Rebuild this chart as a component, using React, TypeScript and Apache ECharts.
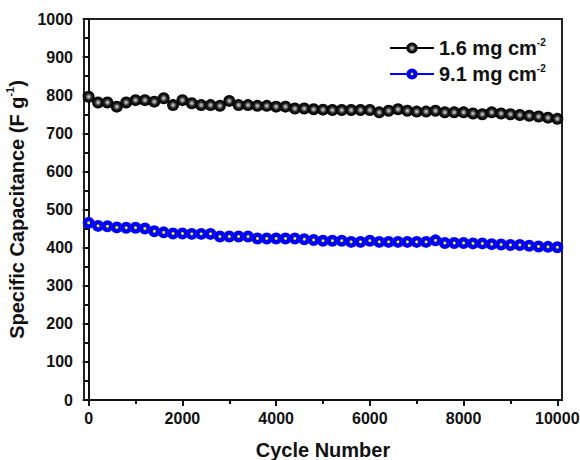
import React, { useEffect, useRef } from "react";
import * as echarts from "echarts";

const cycles = [
  0, 200, 400, 600, 800, 1000, 1200, 1400, 1600, 1800, 2000, 2200, 2400, 2600, 2800, 3000, 3200, 3400, 3600, 3800,
  4000, 4200, 4400, 4600, 4800, 5000, 5200, 5400, 5600, 5800, 6000, 6200, 6400, 6600, 6800, 7000, 7200, 7400, 7600,
  7800, 8000, 8200, 8400, 8600, 8800, 9000, 9200, 9400, 9600, 9800, 10000,
];

const low = [
  796, 781, 781, 770, 781, 787, 787, 783, 792, 774, 787, 779, 774, 774, 772, 785, 774, 774, 772, 772,
  770, 770, 765, 765, 763, 762, 761, 761, 761, 761, 761, 755, 759, 763, 759, 757, 757, 759, 755,
  755, 755, 752, 750, 755, 752, 750, 748, 746, 744, 741, 738,
];

const high = [
  465, 457, 456, 453, 452, 452, 450, 443, 440, 437, 437, 436, 436, 436, 429, 429, 429, 429, 424, 424,
  424, 424, 424, 422, 420, 418, 418, 418, 415, 415, 418, 415, 415, 415, 415, 415, 415, 419, 412,
  412, 412, 411, 411, 409, 408, 407, 407, 405, 403, 402, 401,
];

const seriesNames = ["1.6 mg cm-2", "9.1 mg cm-2"];
const xMajorTicks = [0, 2000, 4000, 6000, 8000, 10000];
const xMinorTicks = [1000, 3000, 5000, 7000, 9000];

const FONT = "'Liberation Sans', Arial, sans-serif";

export default function App() {
  const ref = useRef<HTMLDivElement>(null);
  useEffect(() => {
    if (!ref.current) return;
    const chart = echarts.init(ref.current, null, { renderer: "svg" });
    const blackBall = {
      type: "radial", x: 0.5, y: 0.5, r: 0.5,
      colorStops: [
        { offset: 0, color: "#d8d8d8" },
        { offset: 0.25, color: "#8a8a8a" },
        { offset: 0.55, color: "#1a1a1a" },
        { offset: 1, color: "#000" },
      ],
    };
    const blueBall = {
      type: "radial", x: 0.5, y: 0.5, r: 0.5,
      colorStops: [
        { offset: 0, color: "#ffff20" },
        { offset: 0.18, color: "#e0e000" },
        { offset: 0.32, color: "#0000ff" },
        { offset: 0.85, color: "#0000f0" },
        { offset: 1, color: "#2020ff" },
      ],
    };
    const toPairs = (ys: number[]) => cycles.map((c, i) => [c, ys[i]]);
    const plain = (v: number) => String(v);
    chart.setOption({
      animation: false,
      backgroundColor: "#fff",
      grid: {
        left: 84, right: 18, top: 19, bottom: 60,
        containLabel: false,
        outerBoundsMode: "none",
        show: true, borderColor: "#222", borderWidth: 2,
      },
      legend: {
        orient: "vertical",
        left: 384,
        top: 32,
        itemWidth: 44,
        itemHeight: 14,
        itemGap: 5,
        data: seriesNames,
        formatter: (n: string) => `{a|${n.replace("-2", "")}}{s|-2}`,
        textStyle: {
          rich: {
            a: { fontFamily: FONT, fontWeight: "bold", fontSize: 20, color: "#111", lineHeight: 22 },
            s: { fontFamily: FONT, fontWeight: "bold", fontSize: 10, color: "#111", verticalAlign: "top", lineHeight: 22, padding: [0, 0, 9, 0] },
          },
        },
      },
      xAxis: [
        {
          type: "value",
          min: -100,
          max: 10100,
          position: "bottom",
          name: "Cycle Number",
          nameLocation: "middle",
          nameGap: 40,
          nameTextStyle: { fontFamily: FONT, fontWeight: "bold", fontSize: 20, color: "#111" },
          axisLine: { show: true, lineStyle: { color: "#111", width: 2 } },
          axisTick: { show: true, length: 6, customValues: xMajorTicks, lineStyle: { color: "#111", width: 2 } },
          axisLabel: {
            customValues: xMajorTicks,
            formatter: plain,
            margin: 10,
            fontFamily: FONT, fontWeight: "bold", fontSize: 16, color: "#111",
          },
          splitLine: { show: false },
        },
        {
          type: "value",
          min: -100,
          max: 10100,
          position: "bottom",
          axisLine: { show: false },
          axisTick: { show: true, length: 4, customValues: xMinorTicks, lineStyle: { color: "#111", width: 2 } },
          axisLabel: { show: false },
          splitLine: { show: false },
        },
      ],
      yAxis: {
        type: "value",
        min: 0,
        max: 1000,
        interval: 100,
        name: "{a|Specific Capacitance (F g}{s|-1}{a|)}",
        nameLocation: "middle",
        nameGap: 48,
        nameRotate: 90,
        nameTextStyle: {
          rich: {
            a: { fontFamily: FONT, fontWeight: "bold", fontSize: 20, color: "#111", lineHeight: 24 },
            s: { fontFamily: FONT, fontWeight: "bold", fontSize: 11, color: "#111", verticalAlign: "top", lineHeight: 24, padding: [0, 0, 10, 0] },
          },
        },
        axisLine: { show: true, lineStyle: { color: "#111", width: 2 } },
        axisTick: { show: true, length: 6, lineStyle: { color: "#111", width: 2 } },
        minorTick: { show: true, splitNumber: 2, length: 4, lineStyle: { color: "#111", width: 2 } },
        axisLabel: { margin: 11, formatter: plain, fontFamily: FONT, fontWeight: "bold", fontSize: 16, color: "#111" },
        splitLine: { show: false },
        minorSplitLine: { show: false },
      },
      series: [
        {
          name: seriesNames[0],
          type: "line",
          data: toPairs(low),
          symbol: "circle",
          symbolSize: 12,
          clip: false,
          lineStyle: { color: "#000", width: 1.5 },
          itemStyle: { color: blackBall, borderWidth: 0 },
        },
        {
          name: seriesNames[1],
          type: "line",
          data: toPairs(high),
          symbol: "circle",
          symbolSize: 12,
          clip: false,
          lineStyle: { color: "#0000ff", width: 1.5 },
          itemStyle: { color: blueBall, borderWidth: 0 },
        },
      ],
    });
    return () => chart.dispose();
  }, []);
  return (
    <div
      ref={ref}
      style={{ position: "fixed", left: 0, top: 0, width: 580, height: 460 }}
    />
  );
}
